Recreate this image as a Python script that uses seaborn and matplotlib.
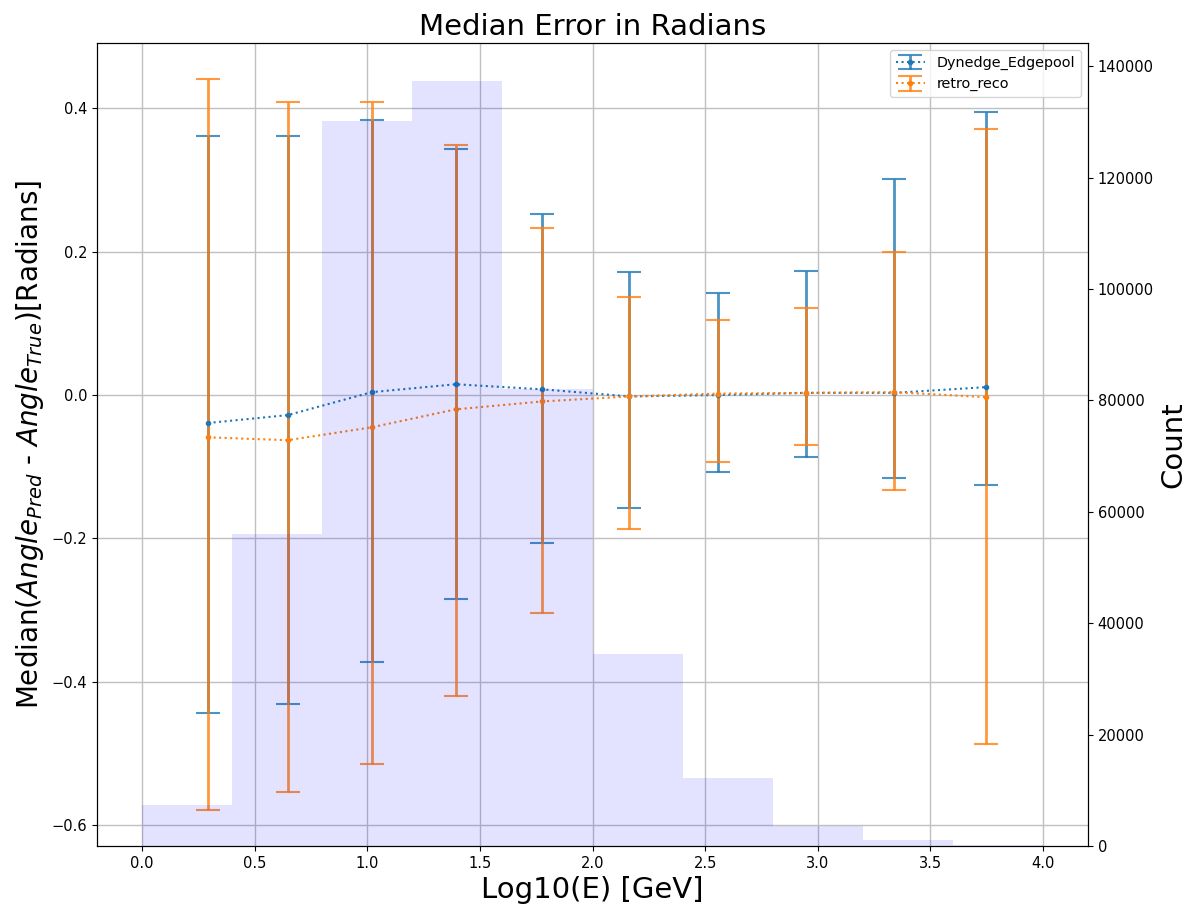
import numpy as np
import pandas as pd
import matplotlib
matplotlib.use("Agg")
import matplotlib.pyplot as plt
import seaborn as sns

# Energy bin centres (log10 E)
energy = [0.293, 0.647, 1.02, 1.392, 1.774, 2.164, 2.559, 2.949, 3.339, 3.747]

# Dynedge_Edgepool
dyn_median = [-0.039, -0.028, 0.004, 0.015, 0.008, -0.002, 0.000, 0.003, 0.003, 0.011]
dyn_upper = [0.361, 0.361, 0.383, 0.343, 0.253, 0.171, 0.142, 0.173, 0.301, 0.394]
dyn_lower = [-0.444, -0.431, -0.373, -0.285, -0.207, -0.157, -0.107, -0.087, -0.116, -0.125]

# retro_reco
retro_median = [-0.059, -0.063, -0.045, -0.020, -0.009, -0.002, 0.002, 0.003, 0.004, -0.003]
retro_upper = [0.440, 0.408, 0.408, 0.348, 0.233, 0.136, 0.105, 0.121, 0.200, 0.371]
retro_lower = [-0.578, -0.553, -0.515, -0.420, -0.304, -0.187, -0.093, -0.069, -0.133, -0.486]

# Histogram of event counts
hist_edges = [0.0, 0.4, 0.8, 1.2, 1.6, 2.0, 2.4, 2.8, 3.2, 3.6, 4.0]
hist_counts = [7300, 56100, 130100, 137300, 82000, 34400, 12200, 3600, 1100, 200]

fig = plt.figure(figsize=(11.92, 9.09), dpi=100)
ax = fig.add_axes([0.0814, 0.0693, 0.9128 - 0.0814, 0.9527 - 0.0693])

series = [
    ("Dynedge_Edgepool", dyn_median, dyn_lower, dyn_upper, "tab:blue"),
    ("retro_reco", retro_median, retro_lower, retro_upper, "tab:orange"),
]
for name, med, lo, up, col in series:
    med = np.array(med)
    yerr = [med - np.array(lo), np.array(up) - med]
    eb = ax.errorbar(energy, med, yerr=yerr, fmt='.', linestyle=':', color=col,
                     capsize=8.5, elinewidth=2, capthick=1.5, label=name)
    for c in eb[1]:
        c.set_alpha(0.8)
    for c in eb[2]:
        c.set_alpha(0.8)

ax.grid(True, color='#c0c0c0', linewidth=1.0)
ax.tick_params(labelsize=10.5)
ax.set_title("Median Error in Radians", fontsize=21)
ax.set_xlabel("Log10(E) [GeV]", fontsize=21)
ax.set_ylabel(r"Median($Angle_{Pred}$ - $Angle_{True}$)[Radians]", fontsize=20)
ax.legend(loc='upper right', fontsize=10.4)

ax2 = ax.twinx()
hist_df = pd.DataFrame({
    "center": [(a + b) / 2 for a, b in zip(hist_edges[:-1], hist_edges[1:])],
    "count": hist_counts,
})
sns.histplot(data=hist_df, x="center", weights="count", bins=hist_edges,
             color='blue', alpha=0.11, linewidth=0, ax=ax2)
ax2.set_ylabel("Count", fontsize=21)
ax2.tick_params(labelsize=10.5)
ax2.set_xlim(-0.2, 4.2)
ax.set_xlim(-0.2, 4.2)

fig.savefig("out.png", dpi=100)
